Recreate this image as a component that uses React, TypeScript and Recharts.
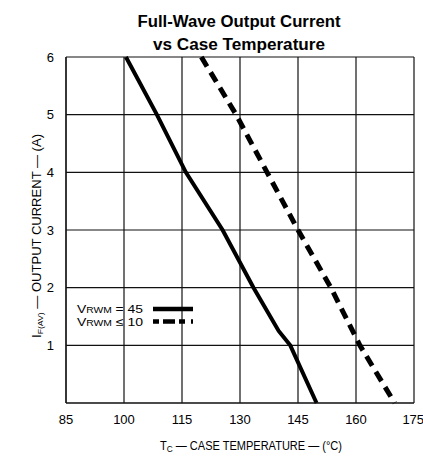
import React from "react";
import { LineChart, Line, XAxis, YAxis, CartesianGrid, Legend } from "recharts";

// (case temperature in °C, current in A)
const solidTemps = [100.5, 108.5, 116, 125.5, 133.5, 140, 143, 149.8];
const solidCurrent = [6, 5, 4, 3, 2, 1.25, 1, 0];
const dashedTemps = [120, 129, 137, 145, 153.5, 161, 170];
const dashedCurrent = [6, 5, 4, 3, 2, 1, 0];

const xTicks = [85, 100, 115, 130, 145, 160, 175];
const yTicks = [0, 1, 2, 3, 4, 5, 6];

const seriesNames = ["= 45", "\u2264 10"];

const solidData = solidTemps.map((t, i) => ({ t, a: solidCurrent[i] }));
const dashedData = dashedTemps.map((t, i) => ({ t, a: dashedCurrent[i] }));

const font = "'Liberation Sans', Arial, sans-serif";

function LegendBox() {
  const rows = [
    { name: seriesNames[0], dash: undefined as string | undefined },
    { name: seriesNames[1], dash: "6 4 12 4 6" },
  ];
  return (
    <svg width={130} height={30} style={{ display: "block", overflow: "visible" }}>
      {rows.map((r, i) => (
        <g key={i}>
          <text x={0} y={13 + i * 12.5} fontSize={11.5} fontFamily={font} fill="#000" textLength={66} lengthAdjust="spacingAndGlyphs">
            V<tspan fontSize={8.5}>RWM</tspan> {r.name}
          </text>
          <line x1={76} x2={116} y1={9 + i * 12.5} y2={9 + i * 12.5} stroke="#000" strokeWidth={4.5} strokeDasharray={r.dash} />
        </g>
      ))}
    </svg>
  );
}

export default function App() {
  return (
    <div style={{ position: "absolute", left: 0, top: 0, width: 423, height: 458, background: "#fff", fontFamily: font }}>
      <svg width={423} height={458} style={{ position: "absolute", left: 0, top: 0 }}>
        <text x={239} y={27} textAnchor="middle" fontSize={16} fontWeight="bold" textLength={203} lengthAdjust="spacingAndGlyphs" fontFamily={font}>
          Full-Wave Output Current
        </text>
        <text x={239} y={50} textAnchor="middle" fontSize={16} fontWeight="bold" textLength={172} lengthAdjust="spacingAndGlyphs" fontFamily={font}>
          vs Case Temperature
        </text>
        <text x={251} y={450} textAnchor="middle" fontSize={12} fontFamily={font} textLength={182} lengthAdjust="spacingAndGlyphs">
          T<tspan fontSize={9} dy={2}>C</tspan><tspan dy={-2}> — CASE TEMPERATURE — (°C)</tspan>
        </text>
        <text x={0} y={0} transform="translate(41,236) rotate(-90)" textAnchor="middle" fontSize={12} fontFamily={font} textLength={204} lengthAdjust="spacingAndGlyphs">
          I<tspan fontSize={8} dy={2}>F(AV)</tspan><tspan dy={-2}> — OUTPUT CURRENT — (A)</tspan>
        </text>
      </svg>
      <div style={{ position: "absolute", left: 0, top: 0 }}>
        <LineChart width={423} height={458} margin={{ top: 57, right: 9, bottom: 0, left: 20 }}>
          <CartesianGrid stroke="#111" strokeWidth={1.2} horizontalValues={yTicks} verticalValues={xTicks} />
          <XAxis
            type="number"
            dataKey="t"
            domain={[85, 175]}
            ticks={xTicks}
            allowDataOverflow
            height={55}
            tickLine={false}
            axisLine={{ stroke: "#111", strokeWidth: 1.2 }}
            tickMargin={6}
            tick={{ fill: "#000", fontSize: 13, fontFamily: font }}
          />
          <YAxis
            type="number"
            dataKey="a"
            domain={[0, 6]}
            ticks={yTicks}
            width={46}
            tickLine={false}
            axisLine={{ stroke: "#111", strokeWidth: 1.2 }}
            tickMargin={6}
            tickFormatter={(v: number) => (v === 0 ? "" : String(v))}
            tick={{ fill: "#000", fontSize: 13, fontFamily: font }}
          />
          <Line data={solidData} dataKey="a" name={seriesNames[0]} type="linear" stroke="#000" strokeWidth={4} dot={false} isAnimationActive={false} />
          <Line data={dashedData} dataKey="a" name={seriesNames[1]} type="linear" stroke="#000" strokeWidth={5} strokeDasharray="11 7" dot={false} isAnimationActive={false} />
          <Legend
            content={() => <LegendBox />}
            wrapperStyle={{ position: "absolute", left: 77, top: 300, width: 130, height: 0, overflow: "visible" }}
          />
        </LineChart>
      </div>
    </div>
  );
}
